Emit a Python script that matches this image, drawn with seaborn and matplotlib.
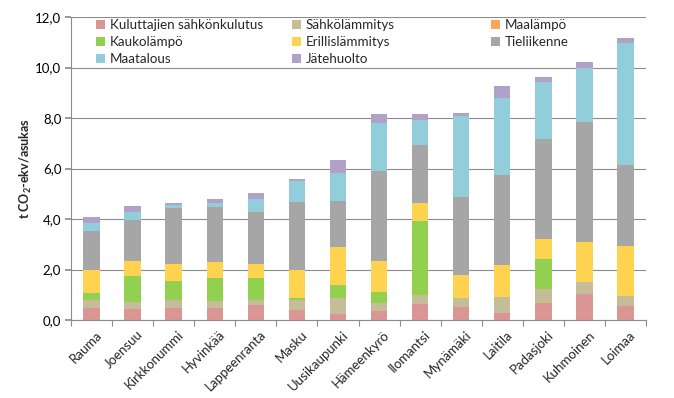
import matplotlib
matplotlib.use("Agg")
import matplotlib.pyplot as plt
import matplotlib.transforms as mtransforms
import seaborn as sns
import numpy as np
from matplotlib.patches import Patch
from matplotlib.ticker import FixedLocator, FuncFormatter

cities = ["Rauma", "Joensuu", "Kirkkonummi", "Hyvinkää", "Lappeenranta", "Masku",
          "Uusikaupunki", "Hämeenkyrö", "Ilomantsi", "Mynämäki", "Laitila",
          "Padasjoki", "Kuhmoinen", "Loimaa"]

series_names = ["Kuluttajien sähkönkulutus", "Sähkölämmitys", "Maalämpö",
                "Kaukolämpö", "Erillislämmitys", "Tieliikenne", "Maatalous", "Jätehuolto"]

kuluttajien_sahko = [0.47, 0.43, 0.47, 0.49, 0.61, 0.39, 0.24, 0.35, 0.63, 0.51, 0.26, 0.66, 1.03, 0.54]
sahkolammitys     = [0.31, 0.30, 0.31, 0.26, 0.17, 0.41, 0.65, 0.33, 0.36, 0.38, 0.64, 0.57, 0.48, 0.43]
maalampo          = [0.00, 0.00, 0.00, 0.00, 0.00, 0.00, 0.00, 0.00, 0.00, 0.00, 0.00, 0.00, 0.00, 0.00]
kaukolampo        = [0.29, 1.01, 0.77, 0.92, 0.89, 0.07, 0.50, 0.43, 2.92, 0.00, 0.00, 1.19, 0.00, 0.00]
erillislammitys   = [0.91, 0.59, 0.68, 0.62, 0.56, 1.10, 1.52, 1.22, 0.74, 0.90, 1.29, 0.77, 1.59, 1.96]
tieliikenne       = [1.56, 1.65, 2.19, 2.18, 2.04, 2.70, 1.82, 3.56, 2.27, 3.10, 3.56, 3.98, 4.74, 3.19]
maatalous         = [0.29, 0.29, 0.15, 0.18, 0.51, 0.84, 1.11, 1.93, 1.01, 3.20, 3.04, 2.26, 2.13, 4.87]
jatehuolto        = [0.26, 0.24, 0.06, 0.13, 0.24, 0.09, 0.49, 0.33, 0.24, 0.11, 0.48, 0.19, 0.26, 0.19]

yticks = [0, 2, 4, 6, 8, 10, 12]

colors = ["#D99694", "#C4BD97", "#F9A55A", "#92D050", "#FFD350", "#A6A6A6", "#92CDDC", "#B2A1C7"]

all_series = [kuluttajien_sahko, sahkolammitys, maalampo, kaukolampo,
              erillislammitys, tieliikenne, maatalous, jatehuolto]

sns.set_theme(style="white")
plt.rcParams["font.family"] = ["Lato", "DejaVu Sans"]
plt.rcParams["mathtext.fontset"] = "custom"
plt.rcParams["mathtext.rm"] = "Lato"
plt.rcParams["mathtext.bf"] = "Lato:bold"

fig = plt.figure(figsize=(6.74, 3.98), dpi=100)
ax = fig.add_axes([71/674, 1 - 320/398, (646-71)/674, (320-17)/398])

bottom = np.zeros(len(cities))
for name, vals, col in zip(series_names, all_series, colors):
    sns.barplot(x=cities, y=vals, bottom=bottom.copy(), color=col, width=0.4,
                saturation=1, errorbar=None, ax=ax, linewidth=0)
    bottom += np.array(vals)

ax.set_ylim(0, 12)
ax.set_xlim(-0.5, len(cities) - 0.5)
ax.yaxis.set_major_locator(FixedLocator(yticks))
ax.yaxis.set_major_formatter(FuncFormatter(lambda v, p: f"{v:.1f}".replace(".", ",")))
grid_c = "#8C8C8C"
ax.grid(axis="y", color=grid_c, linewidth=0.8)
ax.set_axisbelow(True)
for s in ["top", "right"]:
    ax.spines[s].set_visible(False)
for s in ["left", "bottom"]:
    ax.spines[s].set_color(grid_c)
    ax.spines[s].set_linewidth(0.8)

ax.tick_params(axis="y", which="major", left=True, length=4, color=grid_c,
               labelsize=9.5, labelcolor="#000000", pad=3)
ax.set_xticks(np.arange(len(cities)))
ax.set_xticks(np.arange(len(cities) + 1) - 0.5, minor=True)
ax.tick_params(axis="x", which="major", length=0, pad=6, labelsize=9.5)
ax.tick_params(axis="x", which="minor", bottom=True, length=4, color=grid_c, width=0.8)
ax.set_xticklabels(cities, rotation=45, ha="right", rotation_mode="anchor")
offset = mtransforms.ScaledTranslation(4/100, 0, fig.dpi_scale_trans)
for lab in ax.get_xticklabels():
    lab.set_transform(lab.get_transform() + offset)
ax.set_xlabel("")
ax.set_ylabel(r"t CO$_\mathbf{2}$-ekv/asukas", fontsize=9, fontweight="bold", labelpad=1)

handles = [Patch(facecolor=c, edgecolor="none") for c in colors]
cols = [[0, 3, 6], [1, 4, 7], [2, 5]]
xpos = [94, 290, 489]
legs = []
for idx, xp in zip(cols, xpos):
    leg = ax.legend([handles[i] for i in idx], [series_names[i] for i in idx],
                    loc="upper left", bbox_to_anchor=((xp - 71) / (646 - 71), 1.0),
                    frameon=False, fontsize=9.6, handlelength=0.7, handleheight=0.7,
                    handletextpad=0.35, labelspacing=0.38, borderaxespad=0.0,
                    borderpad=0.15)
    legs.append(leg)
for leg in legs[:-1]:
    ax.add_artist(leg)

fig.savefig("out.png", dpi=100)
